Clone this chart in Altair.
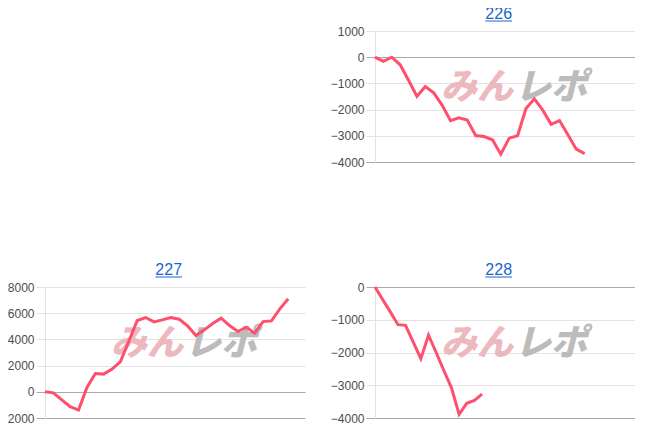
import altair as alt
import pandas as pd

titles = ["226", "227", "228"]
v226 = [0, -160, 0, -290, -880, -1490, -1120, -1360, -1830, -2420, -2310, -2400, -2990,
        -3030, -3150, -3700, -3090, -3000, -1960, -1590, -2020, -2560, -2420, -2960, -3510, -3680]
v227 = [0, -80, -610, -1140, -1400, 330, 1400, 1350, 1740, 2300, 3880, 5440, 5670, 5340, 5490,
        5670, 5540, 5030, 4290, 4730, 5210, 5620, 5060, 4600, 4930, 4470, 5360, 5410, 6330, 7100]
v228 = [0, -380, -760, -1150, -1170, -1680, -2190, -1470, -2000, -2550, -3080, -3890, -3550, -3460, -3270]
series = [v226, v227, v228]
xmax = [31, 31, 34]
ydomains = [[-4000, 1000], [-2000, 8000], [-4000, 0]]
yticks = [[1000, 0, -1000, -2000, -3000, -4000],
          [8000, 6000, 4000, 2000, 0, -2000],
          [0, -1000, -2000, -3000, -4000]]

W, H = 260, 131
FONT = "Liberation Sans, Arial, sans-serif"
LINK = "#1a66cc"


def panel(title, vals, xm, ydom, ticks):
    df = pd.DataFrame({"i": list(range(len(vals))), "v": vals})
    lo = ydom[0]
    dark = f"datum.value == 0 || datum.value == {lo}"
    line = alt.Chart(df).mark_line(color="#ff4f6d", strokeWidth=3).encode(
        x=alt.X("i:Q", scale=alt.Scale(domain=[0, xm], nice=False, zero=False), axis=None),
        y=alt.Y("v:Q", scale=alt.Scale(domain=ydom, nice=False),
                axis=alt.Axis(values=ticks, title=None, grid=True, format="d",
                              gridColor={"condition": {"test": dark, "value": "#a9a9a9"}, "value": "#e3e3e3"},
                              ticks=True, tickSize=9,
                              tickColor={"condition": {"test": dark, "value": "#a9a9a9"}, "value": "#e3e3e3"},
                              labelPadding=2, domain=True, domainColor="#e3e3e3",
                              labelFont=FONT, labelFontSize=12, labelColor="#4d4d4d")),
    )
    one = alt.Chart(pd.DataFrame({"k": [0]}))
    ttl = one.mark_text(text=title, font=FONT, fontSize=16, color=LINK, align="center",
                        baseline="alphabetic").encode(x=alt.value(123.7), y=alt.value(-12))
    ul = one.mark_rule(color=LINK, strokeWidth=1).encode(
        x=alt.value(110.4), x2=alt.value(137), y=alt.value(-10))
    wm1 = one.mark_text(text="みん", font="Noto Sans CJK JP", fontSize=36, fontWeight=900,
                        fontStyle="italic", color="#eab3b7", align="right",
                        baseline="middle", opacity=0.9).encode(x=alt.value(138), y=alt.value(57))
    wm2 = one.mark_text(text="レポ", font="Noto Sans CJK JP", fontSize=36, fontWeight=900,
                        fontStyle="italic", color="#b5b5b5", align="left",
                        baseline="middle", opacity=0.9).encode(x=alt.value(140), y=alt.value(57))
    return alt.layer(wm1, wm2, line, ttl, ul).properties(width=W, height=H)


blank = alt.Chart(pd.DataFrame({"k": [0]})).mark_point(opacity=0).encode(
    x=alt.value(0), y=alt.value(0)).properties(width=W, height=H)

panels = [panel(t, s, xm, yd, tk) for t, s, xm, yd, tk in zip(titles, series, xmax, ydomains, yticks)]

chart = alt.concat(blank, panels[0], panels[1], panels[2], columns=2,
                   spacing={"row": 94, "column": 25}).properties(
    padding={"left": -8, "top": -2, "right": 0, "bottom": 0}
).configure_view(stroke=None)

chart.save("out.html", embed_options={"renderer": "svg", "actions": False})
